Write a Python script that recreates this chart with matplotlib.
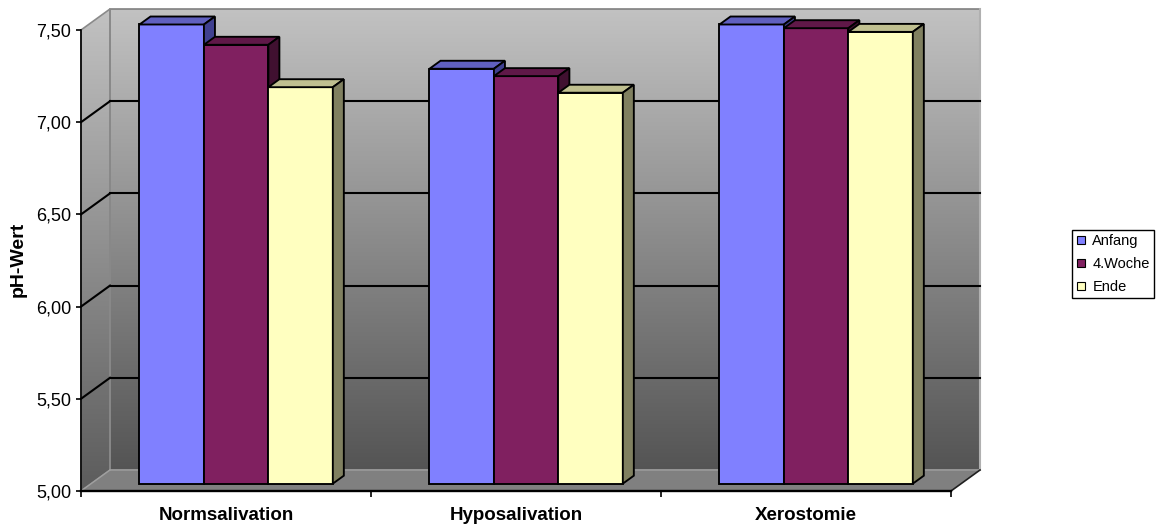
import matplotlib
matplotlib.use("Agg")
import matplotlib.pyplot as plt
import numpy as np
from matplotlib.patches import Polygon
from matplotlib.transforms import IdentityTransform
from matplotlib.lines import Line2D
from matplotlib.ticker import FixedLocator, FuncFormatter

plt.rcParams["font.family"] = ["Liberation Sans", "DejaVu Sans"]

# ---- data -------------------------------------------------------------
categories = ["Normsalivation", "Hyposalivation", "Xerostomie"]
series_names = ["Anfang", "4.Woche", "Ende"]
anfang = [7.49, 7.25, 7.49]
woche4 = [7.38, 7.21, 7.47]
ende = [7.15, 7.12, 7.45]
y_ticks = [5.0, 5.5, 6.0, 6.5, 7.0, 7.5]
y_label = "pH-Wert"

series_values = [anfang, woche4, ende]

# ---- style ------------------------------------------------------------
front_colors = ["#8080ff", "#802060", "#ffffc0"]
top_colors = ["#6060c0", "#601848", "#c0c090"]
side_colors = ["#404090", "#401030", "#808060"]

DPI = 100
fig = plt.figure(figsize=(11.61, 5.29), dpi=DPI)
ax = fig.add_axes([81 / 1161, 38 / 529, 870 / 1161, 461 / 529])
base, top = y_ticks[0], y_ticks[-1]
ax.set_xlim(-0.5, len(categories) - 0.5)
ax.set_ylim(base, top)
ax.set_autoscale_on(False)
ax.patch.set_visible(False)

# oblique depth of the plot box (pixels to the right / upwards)
DEPTH = (29.0, 21.0)
T_FRONT, T_BACK = 0.35, 0.73   # depth span of the columns
x0, x1 = ax.get_xlim()


def px(x, v, t):
    X, Y = ax.transData.transform((x, v))
    return (X + DEPTH[0] * t, Y + DEPTH[1] * t)


def face(points, **kw):
    poly = Polygon([px(*p) for p in points], closed=True,
                   transform=IdentityTransform(), clip_on=False, **kw)
    ax.add_artist(poly)
    return poly


def seg(p, q, **kw):
    a, b = px(*p), px(*q)
    ln = Line2D([a[0], b[0]], [a[1], b[1]], transform=IdentityTransform(),
                clip_on=False, **kw)
    ax.add_artist(ln)


def gradient_fill(points, y_dark, y_light, g_dark, g_light, zorder):
    clip = Polygon([px(*p) for p in points], closed=True,
                   transform=IdentityTransform())
    pts = np.array([px(*p) for p in points])
    xmin, ymin = pts.min(axis=0)
    xmax, ymax = pts.max(axis=0)
    ys = np.linspace(ymin, ymax, 400)
    g = g_dark + (g_light - g_dark) * (ys - y_dark) / (y_light - y_dark)
    g = np.clip(g, 0, 1)
    img = np.repeat(g[:, None, None], 3, axis=2) * np.ones((1, 2, 1))
    im = ax.imshow(img, extent=(xmin, xmax, ymin, ymax), origin="lower",
                   transform=IdentityTransform(), aspect="auto",
                   interpolation="bilinear", zorder=zorder)
    im.set_clip_box(fig.bbox)
    im.set_clip_path(clip)


# back wall
back_pts = [(x0, base, 1), (x1, base, 1), (x1, top, 1), (x0, top, 1)]
yb_dark = px(x0, base, 1)[1]
yb_light = px(x0, top, 1)[1]
gradient_fill(back_pts, yb_dark, yb_light, 0.33, 0.76, 0.1)
face(back_pts, facecolor="none", edgecolor="#808080", linewidth=1.2, zorder=0.3)
seg((x1, base, 1), (x1, top, 1), color="#b0b0b0", linewidth=1.5, zorder=0.35)

# side wall
side_pts = [(x0, base, 0), (x0, base, 1), (x0, top, 1), (x0, top, 0)]
gradient_fill(side_pts, px(x0, base, 0)[1], yb_light, 0.36, 0.76, 0.1)
face(side_pts, facecolor="none", edgecolor="#8a8a8a", linewidth=1.2, zorder=0.3)

# floor
face([(x0, base, 0), (x1, base, 0), (x1, base, 1), (x0, base, 1)],
     facecolor="#808080", edgecolor="none", zorder=0.4)
seg((x0, base, 1), (x1, base, 1), color="#9a9a9a", linewidth=1.2, zorder=0.45)
seg((x0, base, 0), (x0, base, 1), color="#a0a0a0", linewidth=1.0, zorder=0.45)
seg((x1, base, 0), (x1, base, 1), color="#202020", linewidth=1.2, zorder=0.45)

# gridlines on side and back walls
for v in y_ticks[1:-1]:
    seg((x0, v, 0), (x0, v, 1), color="black", linewidth=1.5, zorder=0.6)
    seg((x0, v, 1), (x1, v, 1), color="black", linewidth=1.5, zorder=0.6)

# ---- columns ----------------------------------------------------------
n_series = len(series_values)
gap = 1.5
width = 1.0 / (n_series + gap)
z = 1.0
for ci in range(len(categories)):
    for si in range(n_series):
        v = series_values[si][ci]
        left = ci + (si - n_series / 2) * width
        right = left + width
        ekw = dict(edgecolor="black", linewidth=1.35, joinstyle="miter")
        face([(left, base, T_FRONT), (right, base, T_FRONT),
              (right, v, T_FRONT), (left, v, T_FRONT)],
             facecolor=front_colors[si], zorder=z, **ekw)
        face([(left, v, T_FRONT), (right, v, T_FRONT),
              (right, v, T_BACK), (left, v, T_BACK)],
             facecolor=top_colors[si], zorder=z + 0.01, **ekw)
        face([(right, base, T_FRONT), (right, base, T_BACK),
              (right, v, T_BACK), (right, v, T_FRONT)],
             facecolor=side_colors[si], zorder=z + 0.02, **ekw)
        z += 0.05

# ---- axes -------------------------------------------------------------
for s in ("top", "right"):
    ax.spines[s].set_visible(False)
ax.spines["left"].set_linewidth(1.2)
ax.spines["bottom"].set_linewidth(1.7)
for s in ("left", "bottom"):
    ax.spines[s].set_zorder(5)
    ax.spines[s].set_color("black")

ax.yaxis.set_major_locator(FixedLocator(y_ticks))
ax.yaxis.set_major_formatter(FuncFormatter(lambda v, _: f"{v:.2f}".replace(".", ",")))
ax.tick_params(axis="y", direction="out", length=3.6, width=1.2, pad=3.5,
               labelsize=13, colors="black")
ax.set_xticks(range(len(categories)), categories, fontweight="bold", fontsize=13.5)
ax.set_xticks(np.arange(len(categories) + 1) - 0.5, minor=True)
ax.tick_params(axis="x", which="major", length=0, pad=11.5)
ax.tick_params(axis="x", which="minor", direction="out", length=4.5, width=1.2)

fig.text(18 / 1161, 1 - 259 / 529, y_label, rotation=90, ha="center",
         va="center", fontsize=14, fontweight="bold")

handles = [Line2D([], [], marker="s", linestyle="none", markersize=5.5,
                  markerfacecolor=c, markeredgecolor="black", markeredgewidth=0.8)
           for c in front_colors]
leg = fig.legend(handles, series_names, loc="upper left",
                 bbox_to_anchor=(1072 / 1161, 1 - 230 / 529), fontsize=10.5,
                 frameon=True, fancybox=False, framealpha=1, edgecolor="black",
                 handlelength=0.6, handletextpad=0.5, labelspacing=0.6,
                 borderpad=0.3, borderaxespad=0)
leg.get_frame().set_linewidth(1.0)

fig.savefig("out.png", dpi=DPI)
